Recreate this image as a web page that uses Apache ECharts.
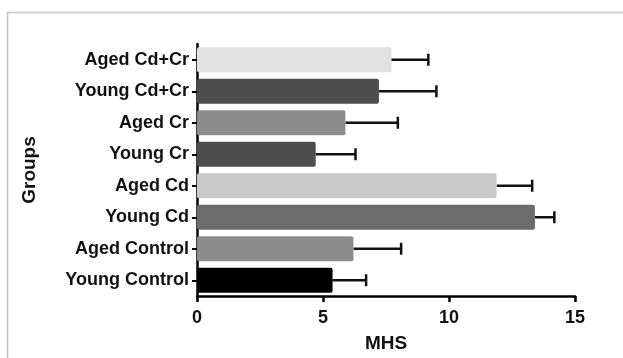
<!DOCTYPE html>
<html>
<head>
<meta charset="utf-8">
<script src="https://cdn.jsdelivr.net/npm/echarts@6/dist/echarts.min.js"></script>
<style>
  html, body { margin: 0; padding: 0; background: #fff; }
  #chart { width: 623px; height: 358px; }
</style>
</head>
<body>
<div id="chart"></div>
<script>
// bottom-to-top order (category axis starts at the bottom)
const groups = ['Young Control', 'Aged Control', 'Young Cd', 'Aged Cd',
  'Young Cr', 'Aged Cr', 'Young Cd+Cr', 'Aged Cd+Cr'];
const mhs = [5.38, 6.21, 13.41, 11.89, 4.71, 5.89, 7.22, 7.71];
const sem = [1.33, 1.89, 0.77, 1.41, 1.58, 2.08, 2.28, 1.47];
const xTicks = [0, 5, 10, 15];

const barColors = ['#000000', '#8d8d8d', '#6c6c6c', '#c9c9c9',
  '#4d4d4d', '#8d8d8d', '#4d4d4d', '#e1e1e1'];

const font = '"Liberation Sans", Arial, sans-serif';

let chart = echarts.init(document.getElementById('chart'), null, { renderer: 'canvas' });

let errData = groups.map((g, i) => [i, mhs[i], mhs[i] + sem[i]]);

let options = {
  backgroundColor: '#ffffff',
  animation: false,
  textStyle: { fontFamily: font },
  graphic: [
    {
      type: 'rect',
      left: 5, top: 10,
      shape: { width: 700, height: 400 },
      style: { fill: 'none', stroke: '#c4c4c4', lineWidth: 1.5 },
      silent: true,
      z: -1,
    },
  ],
  grid: { left: 197, right: 48, top: 44, bottom: 62 },
  xAxis: {
    type: 'value',
    min: xTicks[0],
    max: xTicks[xTicks.length - 1],
    interval: 5,
    name: 'MHS',
    nameLocation: 'middle',
    nameGap: 38,
    nameTextStyle: { fontSize: 19, fontWeight: 'bold', color: '#111', fontFamily: font },
    splitLine: { show: false },
    axisLine: { show: true, lineStyle: { color: '#000', width: 2.5 } },
    axisTick: { show: true, length: 6, lineStyle: { color: '#000', width: 2.5 } },
    axisLabel: { fontSize: 18, fontWeight: 'bold', color: '#111', margin: 13, fontFamily: font },
  },
  yAxis: {
    type: 'category',
    data: groups,
    name: 'Groups',
    nameLocation: 'middle',
    nameGap: 158,
    nameRotate: 90,
    nameTextStyle: { fontSize: 19, fontWeight: 'bold', color: '#111', fontFamily: font },
    axisLine: { show: true, lineStyle: { color: '#000', width: 2.5 } },
    axisTick: { show: true, alignWithLabel: true, length: 5, lineStyle: { color: '#000', width: 2 } },
    axisLabel: { fontSize: 18, fontWeight: 'bold', color: '#111', margin: 8, fontFamily: font },
  },
  series: [
    {
      type: 'bar',
      data: mhs.map((v, i) => ({ value: v, itemStyle: { color: barColors[i] } })),
      barCategoryGap: '20%',
      itemStyle: { borderRadius: 2 },
      z: 2,
    },
    {
      type: 'custom',
      data: errData,
      encode: { y: 0, x: [1, 2] },
      z: 1,
      renderItem(params, api) {
        let cat = api.value(0);
        let lo = api.coord([api.value(1), cat]);
        let hi = api.coord([api.value(2), cat]);
        let capH = 6;
        let st = { stroke: '#111', lineWidth: 2.5 };
        return {
          type: 'group',
          children: [
            { type: 'line', shape: { x1: lo[0], y1: lo[1], x2: hi[0], y2: hi[1] }, style: st },
            { type: 'line', shape: { x1: hi[0], y1: hi[1] - capH, x2: hi[0], y2: hi[1] + capH }, style: st },
          ],
        };
      },
    },
  ],
};

chart.setOption(options);
</script>
</body>
</html>
